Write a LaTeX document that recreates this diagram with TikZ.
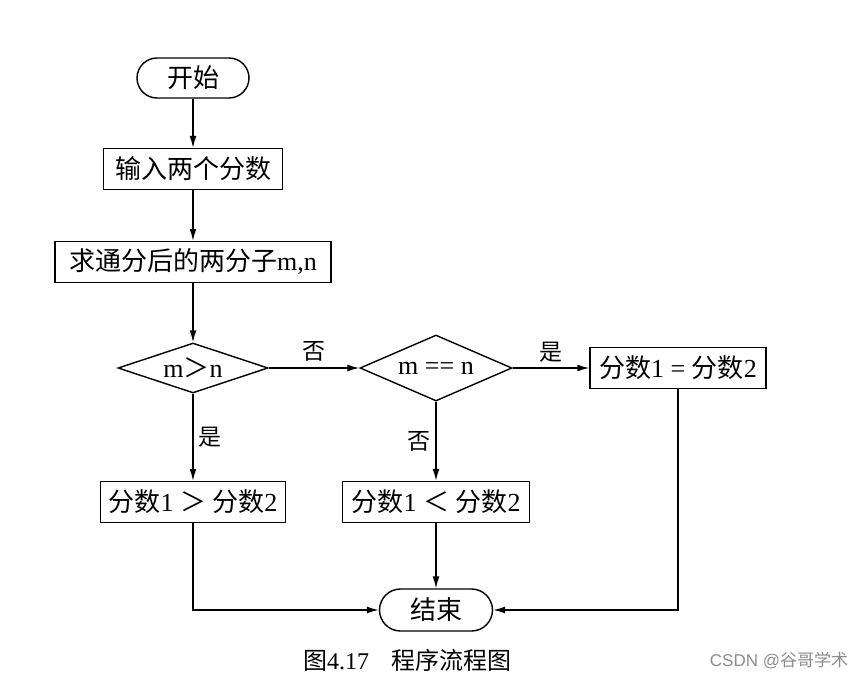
\documentclass[tikz,border=0pt]{standalone}
\usepackage{fontspec}
\setmainfont{Liberation Serif}
\newfontfamily\cjk{Noto Sans CJK SC}
\newfontfamily\wmfont{Liberation Sans}
\usetikzlibrary{arrows.meta,shapes.geometric}
\begin{document}
\begin{tikzpicture}[x=1pt,y=-1pt,
  every node/.style={font=\fontsize{26}{30}\selectfont, inner sep=0pt},
  term/.style={draw, line width=1.4pt, rounded corners=20pt, minimum height=40pt},
  proc/.style={draw, line width=1.4pt, rectangle, minimum height=41pt},
  dec/.style={draw, line width=1.4pt, diamond},
  arr/.style={line width=1.4pt, -{Latex[length=12pt,width=7pt]}},
  lab/.style={font=\fontsize{23}{27}\selectfont\cjk}]
\useasboundingbox (0,0) rectangle (863,678);
\node[term, minimum width=112pt] (start) at (193,78) {\cjk 开始};
\node[proc, minimum width=179pt] (in) at (193,169) {\cjk 输入两个分数};
\node[proc, minimum width=276pt] (calc) at (193,262) {{\cjk 求通分后的两分子}m,n};
\node[dec, minimum width=150pt, minimum height=50pt, label={center:m{\cjk ＞}n}] (d1) at (193,368) {};
\node[dec, minimum width=152pt, minimum height=66pt, label={center:m == n}] (d2) at (436,368) {};
\node[proc, minimum width=176pt] (eq) at (678,368) {{\cjk 分数}1 = {\cjk 分数}2};
\node[proc, minimum width=185pt] (gt) at (193,502) {{\cjk 分数}1 {\cjk ＞} {\cjk 分数}2};
\node[proc, minimum width=187pt] (lt) at (436,502) {{\cjk 分数}1 {\cjk ＜} {\cjk 分数}2};
\node[term, minimum width=113pt, minimum height=42pt, rounded corners=21pt] (end) at (436,610) {\cjk 结束};
\draw[arr] (start) -- (in);
\draw[arr] (in) -- (calc);
\draw[arr] (calc) -- (d1);
\draw[arr] (d1) -- node[lab, above=6pt] {否} (d2);
\draw[arr] (d2) -- node[lab, above=5pt] {是} (eq);
\draw[arr] (d1) -- node[lab, right=5pt] {是} (gt);
\draw[arr] (d2) -- node[lab, left=5pt] {否} (lt);
\draw[arr] (lt) -- (end);
\draw[arr] (gt.south) |- (end.west);
\draw[arr] (eq.south) |- (end.east);
\node[font=\fontsize{24}{28}\selectfont] (cap) at (407,660) {{\cjk 图}4.17\hspace{22pt}{\cjk 程序流程图}};
\node[font=\fontsize{17}{20}\selectfont, text=black!45] (wm) at (779,660) {\wmfont CSDN @{\cjk 谷哥学术}};
\end{tikzpicture}
\end{document}
